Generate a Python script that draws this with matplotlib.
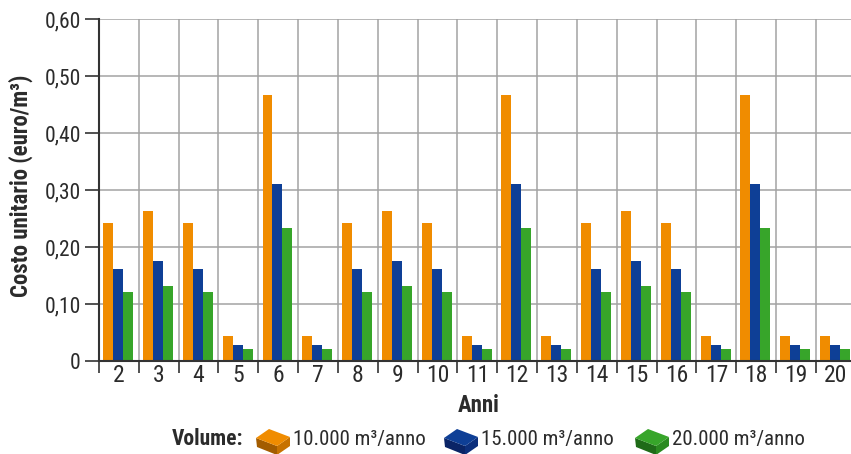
import numpy as np
import matplotlib.pyplot as plt
from matplotlib.patches import Polygon

plt.rcParams['font.family'] = ['Roboto Condensed', 'Liberation Sans Narrow',
                               'Liberation Sans', 'DejaVu Sans']

years = [2, 3, 4, 5, 6, 7, 8, 9, 10, 11, 12, 13, 14, 15, 16, 17, 18, 19, 20]
cost_10k = [0.242, 0.264, 0.242, 0.043, 0.466, 0.043, 0.242, 0.264, 0.242, 0.043,
            0.466, 0.043, 0.242, 0.264, 0.242, 0.043, 0.466, 0.043, 0.043]
cost_15k = [0.161, 0.176, 0.161, 0.028, 0.311, 0.028, 0.161, 0.176, 0.161, 0.028,
            0.311, 0.028, 0.161, 0.176, 0.161, 0.028, 0.311, 0.028, 0.028]
cost_20k = [0.121, 0.132, 0.121, 0.021, 0.233, 0.021, 0.121, 0.132, 0.121, 0.021,
            0.233, 0.021, 0.121, 0.132, 0.121, 0.021, 0.233, 0.021, 0.021]
y_ticks = [0, 0.1, 0.2, 0.3, 0.4, 0.5, 0.6]
y_tick_labels = ["0", "0,10", "0,20", "0,30", "0,40", "0,50", "0,60"]
series_labels = ["10.000 m³/anno", "15.000 m³/anno", "20.000 m³/anno"]

# (bar/top face, front face, side face)
palette = [
    ("#f08c00", "#a35c00", "#c77200"),
    ("#0e3f96", "#0a2466", "#0c2f7c"),
    ("#37a52a", "#1f6b18", "#2a8a20"),
]
text_col = "#2b2b2b"

W, H = 851, 454
fig = plt.figure(figsize=(W / 100, H / 100), dpi=100)
ax = fig.add_axes([99 / W, 93 / H, (W - 99) / W, 342 / H])

x = np.arange(len(years))
bw = 0.25
for i, vals in enumerate([cost_10k, cost_15k, cost_20k]):
    ax.bar(x + (i - 1) * bw - 0.02, vals, width=bw, color=palette[i][0],
           linewidth=0, zorder=3)

ax.set_xlim(-0.5, 18.38)
ax.set_ylim(0, 0.6)

ax.set_yticks(y_ticks)
ax.set_yticklabels(y_tick_labels, fontsize=15.5, color=text_col)
ax.set_xticks(x)
ax.set_xticklabels([str(y) for y in years], fontsize=17, color=text_col)
ax.set_xticks(np.arange(-0.5, len(years) - 0.5, 1.0), minor=True)

ax.tick_params(axis="y", which="major", direction="out", length=10, width=1.2,
               color="#333333", pad=3)
ax.tick_params(axis="x", which="major", length=0, pad=2)
ax.tick_params(axis="x", which="minor", direction="out", length=8.5, width=1.2,
               color="#333333")

ax.grid(True, axis="y", which="major", color="#a3a3a3", linewidth=1.1, zorder=0)
ax.grid(True, axis="x", which="minor", color="#a3a3a3", linewidth=1.1, zorder=0)
ax.set_axisbelow(True)

for side in ("top", "right"):
    ax.spines[side].set_visible(False)
for side in ("left", "bottom"):
    ax.spines[side].set_color("#333333")
    ax.spines[side].set_linewidth(1.5)
    ax.spines[side].set_zorder(4)

fig.text(21 / W, 1 - 186 / H, "Costo unitario (euro/m³)", rotation=90,
         ha="center", va="center", fontsize=16.5, fontweight="bold", color=text_col)
fig.text(479 / W, 1 - 405 / H, "Anni", ha="center", va="center",
         fontsize=16.5, fontweight="bold", color=text_col)

# legend row with little box icons
fig.text(172 / W, 1 - 439 / H, "Volume:", ha="left", va="center",
         fontsize=15.5, fontweight="bold", color=text_col)


def box_icon(x0, y0, cols):
    # x0, y0: left corner in pixels (from top-left)
    def pt(px, py):
        return (px / W, 1 - py / H)
    top = [pt(x0, y0), pt(x0 + 13, y0 - 9), pt(x0 + 34, y0 - 1), pt(x0 + 21, y0 + 8)]
    front = [pt(x0, y0), pt(x0 + 21, y0 + 8), pt(x0 + 21, y0 + 17), pt(x0 + 1, y0 + 9)]
    side = [pt(x0 + 21, y0 + 8), pt(x0 + 34, y0 - 1), pt(x0 + 34, y0 + 8),
            pt(x0 + 21, y0 + 17)]
    for poly, c in ((front, cols[1]), (side, cols[2]), (top, cols[0])):
        fig.patches.append(Polygon(poly, closed=True, facecolor=c, edgecolor="none",
                                   transform=fig.transFigure, figure=fig))


icon_x = [256, 444, 635]
for ix, cols, lab in zip(icon_x, palette, series_labels):
    box_icon(ix, 438, cols)
    fig.text((ix + 37) / W, 1 - 439 / H, lab, ha="left", va="center",
             fontsize=15, color=text_col)

fig.savefig("out.png", dpi=100)
